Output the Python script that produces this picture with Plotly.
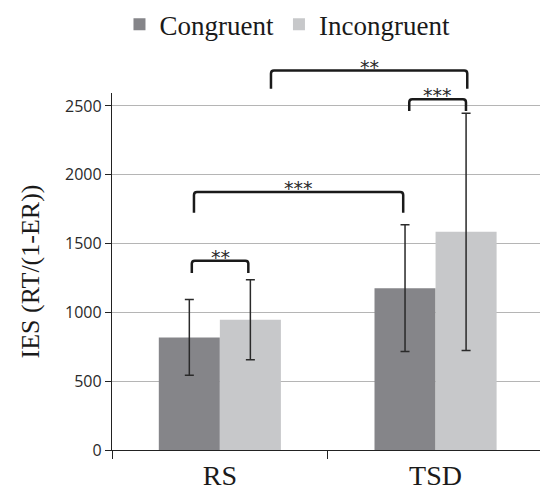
import plotly.graph_objects as go

# ---- data ----
conditions = ["RS", "TSD"]
congruent = [818, 1176]
congruent_err = [275, 460]
incongruent = [946, 1585]
incongruent_err = [291, 862]

y_ticks = [0, 500, 1000, 1500, 2000, 2500]

# significance brackets (x in category units: RS=0, TSD=1; y in IES units)
sig_x0 = [-0.13, -0.12, 0.878, 0.237]
sig_x1 = [0.132, 0.850, 1.141, 1.147]
sig_top = [1376, 1875, 2548, 2757]
sig_leg = [1287, 1724, 2464, 2625]
sig_text = ["**", "***", "***", "**"]

# ---- figure ----
W, H = 540, 491
ML, MR, MT, MB = 112, 0, 92, 39
xr = [-0.5, 1.4842]
yr = [0, 2594]

fig = go.Figure()
fig.add_trace(go.Bar(
    x=conditions, y=congruent, name="Congruent",
    marker=dict(color="#858589", line=dict(width=0)),
    error_y=dict(type="data", array=congruent_err, symmetric=True,
                 color="#2a2a2a", thickness=1.5, width=4.5),
))
fig.add_trace(go.Bar(
    x=conditions, y=incongruent, name="Incongruent",
    marker=dict(color="#c7c8ca", line=dict(width=0)),
    error_y=dict(type="data", array=incongruent_err, symmetric=True,
                 color="#2a2a2a", thickness=1.5, width=4.5),
))

pw = W - ML - MR
ph = H - MT - MB


def px(x):
    return (x - xr[0]) / (xr[1] - xr[0])


def py(y):
    return (y - yr[0]) / (yr[1] - yr[0])


rx = 3.0 / pw
ry = 3.0 / ph
shapes = []
annotations = []
for x0d, x1d, td, ld, txt in zip(sig_x0, sig_x1, sig_top, sig_leg, sig_text):
    x0, x1, yt, yl = px(x0d), px(x1d), py(td), py(ld)
    path = (f"M {x0},{yl} L {x0},{yt - ry} Q {x0},{yt} {x0 + rx},{yt} "
            f"L {x1 - rx},{yt} Q {x1},{yt} {x1},{yt - ry} L {x1},{yl}")
    shapes.append(dict(type="path", path=path, xref="paper", yref="paper",
                       line=dict(color="#1a1a1a", width=2.5)))
    annotations.append(dict(text=txt, x=(x0 + x1) / 2, y=yt, xref="paper", yref="paper",
                            xanchor="center", yanchor="bottom", yshift=-9,
                            showarrow=False,
                            font=dict(family="DejaVu Sans", size=19, color="#2a2a2a")))

fig.update_layout(
    width=W, height=H,
    margin=dict(l=ML, r=MR, t=MT, b=MB, pad=0),
    paper_bgcolor="white", plot_bgcolor="white",
    barmode="group", bargap=0.434, bargroupgap=0,
    showlegend=True,
    legend=dict(orientation="h", x=0.41, xanchor="center", y=(ph + MT - 23) / ph,
                yanchor="middle", font=dict(family="Liberation Serif", size=27, color="#1a1a1a"),
                bgcolor="rgba(0,0,0,0)"),
    shapes=shapes,
    annotations=annotations,
    xaxis=dict(type="category", range=xr, showline=True, linecolor="#222222", linewidth=1.3,
               ticks="outside", ticklen=8, tickwidth=1.3, tickcolor="#222222",
               tickson="boundaries", showgrid=False, zeroline=False,
               tickfont=dict(family="Liberation Serif", size=28, color="#1a1a1a")),
    yaxis=dict(range=yr, tickvals=y_ticks, showline=True, linecolor="#222222", linewidth=1.3,
               ticks="outside", ticklen=6, tickwidth=1.3, tickcolor="#222222",
               showgrid=True, gridcolor="#b5b5b5", gridwidth=1.3, zeroline=False,
               tickfont=dict(family="Open Sans", size=16, color="#2a2a2a"),
               title=dict(text="IES (RT/(1-ER))", standoff=17,
                          font=dict(family="Liberation Serif", size=26, color="#1a1a1a"))),
)

fig.write_html("out.html", config={"displayModeBar": False},
               post_script="document.body.style.margin='0';document.body.style.overflow='hidden';")
